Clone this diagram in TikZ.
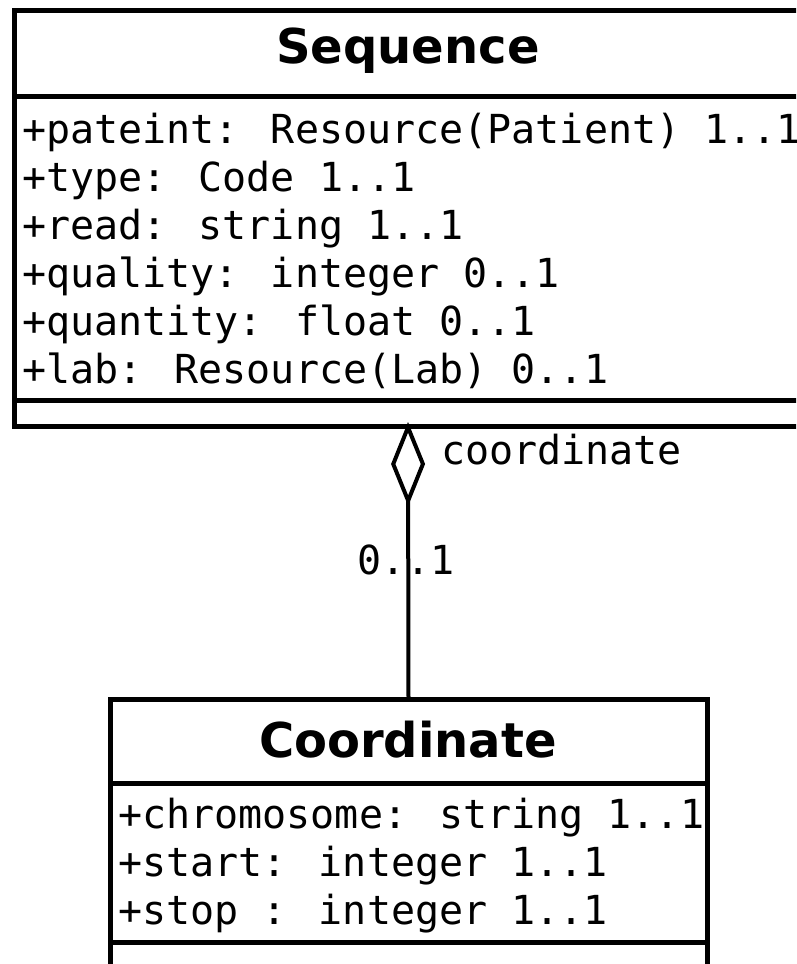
\documentclass[tikz,border=0pt]{standalone}
\usepackage{fontspec}
\newfontfamily\umlmono{DejaVu Sans Mono}
\newfontfamily\umlsans{DejaVu Sans}
\usetikzlibrary{arrows.meta,positioning}

\begin{document}
\begin{tikzpicture}[
  x=1pt, y=-1pt,
  umlbox/.style={draw,line width=5pt,inner sep=0pt,outer sep=0pt,anchor=north west},
  title/.style={font=\umlsans\bfseries\fontsize{48}{56}\selectfont},
  attr/.style={font=\umlmono\fontsize{40}{48}\selectfont,anchor=base west,inner sep=0pt},
  lbl/.style={font=\umlmono\fontsize{40}{48}\selectfont,inner sep=0pt},
  sep/.style={line width=5pt},
  aggr/.style={{Diamond[open,length=84pt,width=34pt,line width=4pt]}-,line width=4pt}
]
\useasboundingbox (0,0) rectangle (796,964);
\clip (0,0) rectangle (796,964);
% class boxes
\node[umlbox,minimum width=788pt,minimum height=416pt] (seq) at (14,10) {};
\node[umlbox,minimum width=597pt,minimum height=320pt] (coord) at (110,699) {};
\draw[sep] (seq.west |- 0,96) -- (seq.east |- 0,96);
\draw[sep] (seq.west |- 0,400) -- (seq.east |- 0,400);
\draw[sep] (coord.west |- 0,783) -- (coord.east |- 0,783);
\draw[sep] (coord.west |- 0,942) -- (coord.east |- 0,942);
% Sequence
\node[title] (seqname) at (408,51) {Sequence};
\node[attr] (seqpat) at (22,143) {+pateint: Resource(Patient) 1..1};
\node[attr] (seqtype) at (22,191) {+type: Code 1..1};
\node[attr] (seqread) at (22,239) {+read: string 1..1};
\node[attr] (seqqual) at (22,287) {+quality: integer 0..1};
\node[attr] (seqquant) at (22,335) {+quantity: float 0..1};
\node[attr] (seqlab) at (22,383) {+lab: Resource(Lab) 0..1};
% Coordinate
\node[title] (coordname) at (408,740) {Coordinate};
\node[attr] (coordchr) at (118,828) {+chromosome: string 1..1};
\node[attr] (coordstart) at (118,876) {+start: integer 1..1};
\node[attr] (coordstop) at (118,924) {+stop : integer 1..1};
% aggregation
\draw[aggr] ([yshift=4pt]seq.south) -- (coord.north);
\node[lbl,anchor=west] (role) at (441,450) {coordinate};
\node[lbl] (mult) at (406,560) {0..1};
\end{tikzpicture}
\end{document}
